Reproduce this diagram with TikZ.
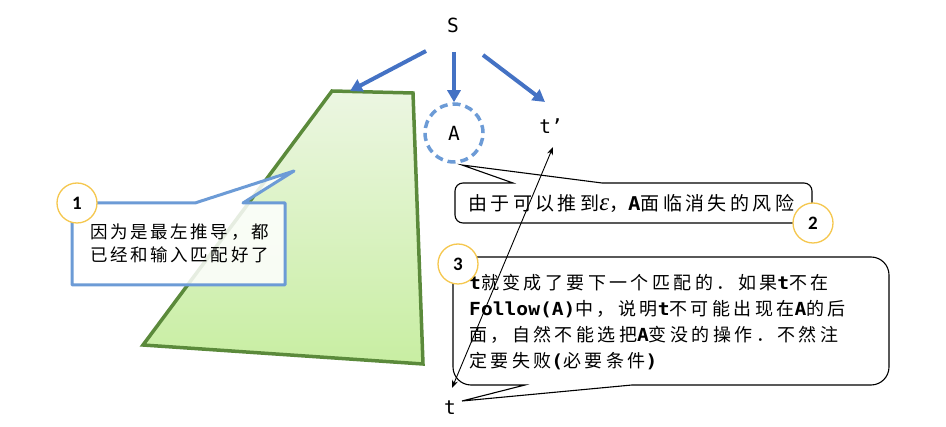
\documentclass[tikz,border=0pt]{standalone}
\usepackage{fontspec}
\usetikzlibrary{arrows.meta}
\newfontfamily\cjkA{Noto Sans CJK SC}[LetterSpace=19]
\newfontfamily\cjkB{Noto Sans CJK SC}[LetterSpace=18]
\newfontfamily\cjkC{Noto Sans CJK SC}[LetterSpace=15]
\newfontfamily\monof{DejaVu Sans Mono}
\newfontfamily\monow{DejaVu Sans Mono}[FakeStretch=1.09]
\newfontfamily\numf{Carlito}
\newfontfamily\grk{Liberation Serif}
\newcommand{\mtx}[1]{{\monow\bfseries #1}}
\definecolor{arrowblue}{HTML}{4472C4}
\definecolor{lightblue}{HTML}{6C9BD6}
\definecolor{trapgreen}{HTML}{5B8A3B}
\definecolor{traptop}{HTML}{ECF6E2}
\definecolor{trapbot}{HTML}{C8EEA2}
\definecolor{gold}{HTML}{F5C74E}
\begin{document}
\begin{tikzpicture}[x=1pt,y=-1pt,
  lbl/.style={font=\monof\fontsize{19.5pt}{19.5pt}\selectfont, inner sep=0pt},
  bluearrow/.style={draw=arrowblue, line width=4pt, -{Triangle[length=12pt,width=13pt]}},
  numcirc/.style={circle, draw=gold, line width=1.3pt, fill=white, minimum size=40pt, inner sep=0pt, font=\numf\bfseries\fontsize{19pt}{19pt}\selectfont},
  dashcirc/.style={circle, draw=lightblue, line width=3.5pt, dash pattern=on 8pt off 5pt, minimum size=58pt, inner sep=0pt},
  calloutthin/.style={draw=black, line width=1.1pt, fill=white},
  txtA/.style={anchor=base west, inner sep=0pt, font=\cjkA\fontsize{18pt}{18pt}\selectfont},
  txtB/.style={anchor=base west, inner sep=0pt, font=\cjkB\fontsize{19pt}{19pt}\selectfont},
  txtC/.style={anchor=base west, inner sep=0pt, font=\cjkC\fontsize{17.5pt}{17.5pt}\selectfont},
  dblarrow/.style={draw=black, line width=0.9pt, {Stealth[length=8pt,width=6pt]}-{Stealth[length=8pt,width=6pt]}}
]
\useasboundingbox (0,0) rectangle (946,427);
% trapezoid
\shade[top color=traptop, bottom color=trapbot] (332,91) -- (413,93) -- (423,364) -- (143,345) -- cycle;
\draw[trapgreen, line width=3.5pt] (332,91) -- (413,93) -- (423,364) -- (143,345) -- cycle;
\coordinate (trapTop) at (350,91);
% top nodes
\node[lbl] (S) at (453,25) {S};
\node[dashcirc, font=\monof\fontsize{19.5pt}{19.5pt}\selectfont] (A) at (454,133) {A};
\node[lbl] (tp) at (551,126) {t’};
\node[lbl] (t) at (450,408) {t};
\draw[bluearrow] ([shift={(-27,26)}]S.center) -- (trapTop);
\draw[bluearrow] ([shift={(1,27)}]S.center) -- (A.north);
\draw[bluearrow] ([shift={(30,30)}]S.center) -- ([shift={(-6,-24)}]tp.center);
% callout 1
\path[fill=white, fill opacity=0.85, draw=lightblue, draw opacity=1, line width=3pt, line join=round]
  (72,203) -- (195,203) -- (294,171) -- (243,203) -- (285,203) -- (285,285) -- (72,285) -- cycle;
\node[txtC] (c1a) at (90,238.5) {因为是最左推导，都};
\node[txtC] (c1b) at (90,261.5) {已经和输入匹配好了};
\node[numcirc] (n1) at (77,203) {1};
% callout 2
\draw[calloutthin] (463,183) -- (513,183) -- (462,165) -- (602,183) -- (804,183) arc (270:360:8)
  -- (812,215) arc (0:90:8) -- (463,223) arc (90:180:8) -- (455,191) arc (180:270:8) -- cycle;
\node[txtB] (c2) at (468,211) {由于可以推到{\grk\itshape\fontsize{25pt}{25pt}\selectfont ε}，\mtx{A}面临消失的风险};
\node[numcirc] (n2) at (813,223) {2};
% callout 3
\draw[calloutthin] (632,385) -- (462,401) -- (525,385) -- (471,385) arc (90:180:18)
  -- (453,275) arc (180:270:18) -- (871,257) arc (270:360:18) -- (889,367) arc (0:90:18) -- cycle;
\node[txtA] (c3a) at (469,290) {\mtx{t}就变成了要下一个匹配的．如果\mtx{t}不在};
\node[txtA] (c3b) at (469,316) {\mtx{Follow(A)}中，说明\mtx{t}不可能出现在\mtx{A}的后};
\node[txtA] (c3c) at (469,342) {面，自然不能选把\mtx{A}变没的操作．不然注};
\node[txtA] (c3d) at (469,368) {定要失败\mtx{(}必要条件\mtx{)}};
\node[numcirc] (n3) at (458,264) {3};
% t <-> t'
\draw[dblarrow] ([shift={(2,-20)}]t.center) -- ([shift={(2,21)}]tp.center);
\end{tikzpicture}
\end{document}
